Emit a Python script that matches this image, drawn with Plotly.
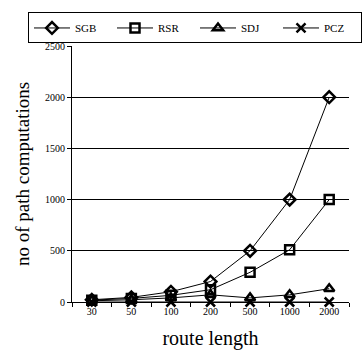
import plotly.graph_objects as go

categories = ["30", "50", "100", "200", "500", "1000", "2000"]
sgb = [22, 45, 100, 200, 500, 1000, 2000]
rsr = [18, 35, 65, 120, 290, 510, 1000]
sdj = [12, 22, 40, 70, 40, 70, 130]
pcz = [0, 0, 0, 0, 0, 0, 0]

series = [
    ("SGB", sgb, "diamond-open"),
    ("RSR", rsr, "square-open"),
    ("SDJ", sdj, "triangle-up-open"),
    ("PCZ", pcz, "x-thin-open"),
]

fig = go.Figure()
for name, vals, sym in series:
    fig.add_trace(go.Scatter(
        x=categories, y=vals, name=name, mode="lines+markers",
        line=dict(color="black", width=1),
        marker=dict(symbol=sym, size=9, color="black",
                    line=dict(color="black", width=2.5)),
        cliponaxis=False,
    ))

font = "Liberation Serif, Times New Roman, serif"
fig.update_layout(
    width=362, height=357,
    margin=dict(l=72, r=13, t=42, b=55),
    paper_bgcolor="white", plot_bgcolor="white",
    font=dict(family=font, color="black", size=11),
    showlegend=True,
    legend=dict(
        orientation="h", x=-0.14, y=1.131, xanchor="left", yanchor="top",
        bordercolor="black", borderwidth=1, font=dict(size=11, family=font),
        itemwidth=36, entrywidth=32, entrywidthmode="pixels", tracegroupgap=0,
    ),
    xaxis=dict(
        type="category", range=[-0.5, 6.5], tickson="boundaries",
        ticks="outside", ticklen=4, tickcolor="black", tickwidth=1,
        showline=True, linecolor="black", linewidth=1,
        showgrid=False, tickfont=dict(size=10),
        title=dict(text="route length", font=dict(size=20), standoff=14),
    ),
    yaxis=dict(
        range=[0, 2500], dtick=500, ticks="outside", ticklen=4,
        tickcolor="black", showline=True, linecolor="black", linewidth=1,
        showgrid=True, gridcolor="black", gridwidth=1, zeroline=False,
        tickfont=dict(size=10),
        title=dict(text="no of path computations", font=dict(size=19), standoff=10),
    ),
)

fig.write_html("out.html")
